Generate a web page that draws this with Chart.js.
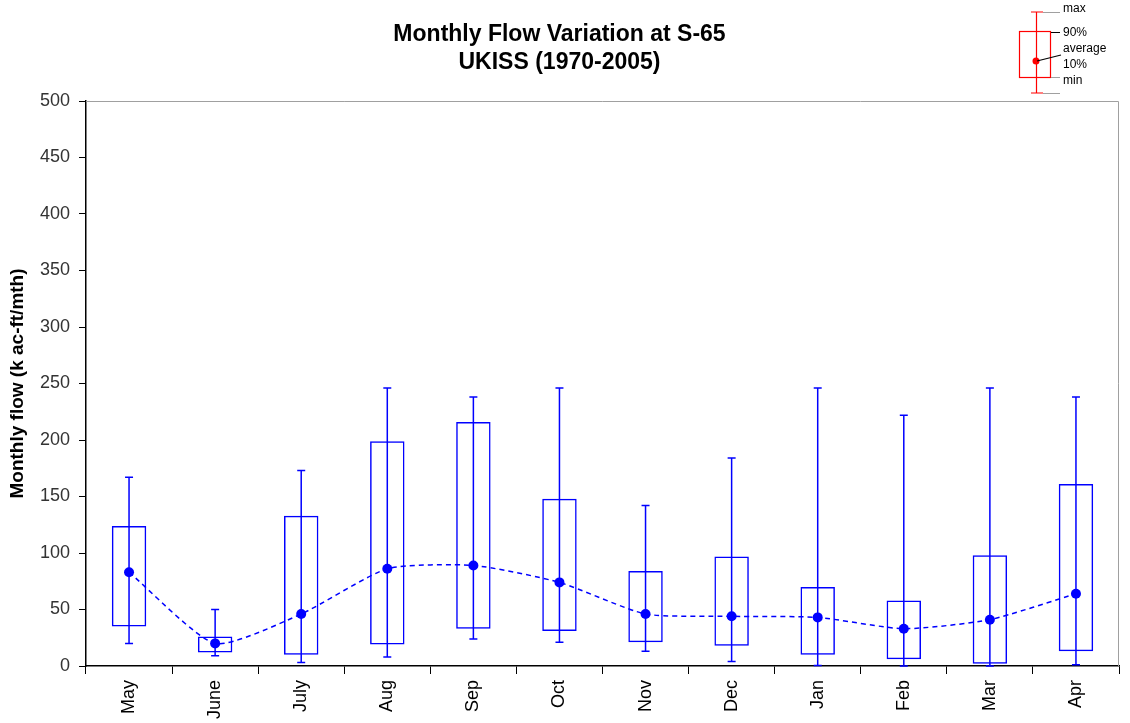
<!DOCTYPE html>
<html>
<head>
<meta charset="utf-8">
<script src="https://cdn.jsdelivr.net/npm/chart.js@4"></script>
<style>
  html, body { margin: 0; padding: 0; background: #fff; }
  #wrap { width: 1130px; height: 723px; }
</style>
</head>
<body>
<div id="wrap"><canvas id="mycanvas" width="1130" height="723"></canvas></div>
<script>
// monthly flow stats, k ac-ft/mth
var months  = ["May", "June", "July", "Aug", "Sep", "Oct", "Nov", "Dec", "Jan", "Feb", "Mar", "Apr"];
var maxVal  = [167, 50, 173, 246, 238, 246, 142, 184, 246, 222, 246, 238];
var p90     = [124, 26, 133, 199, 216, 148, 84, 97, 70, 58, 98, 161];
var average = [83, 20, 46, 86, 89, 74, 46, 44, 43, 33, 41, 64];
var p10     = [35, 12, 10, 19, 33, 31, 21, 18, 10, 6, 2, 13];
var minVal  = [20, 9, 3, 8, 24, 21, 13, 4, 0.5, 0, 0, 1];
var yTicks  = [0, 50, 100, 150, 200, 250, 300, 350, 400, 450, 500];

var BLUE = "#0000ff";

var boxes = [];
for (var i = 0; i < months.length; i++) {
	boxes.push([p10[i], p90[i]]);
}

// min-max whiskers with caps
var whiskerPlugin = {
	id: "whiskers",
	beforeDatasetsDraw: function(chart) {
		var ctx = chart.ctx;
		var x = chart.scales.x, y = chart.scales.y;
		ctx.save();
		ctx.strokeStyle = BLUE;
		ctx.lineWidth = 1.5;
		for (var i = 0; i < months.length; i++) {
			var px = x.getPixelForValue(i);
			var top = y.getPixelForValue(maxVal[i]);
			var bot = y.getPixelForValue(minVal[i]);
			ctx.beginPath();
			ctx.moveTo(px, top); ctx.lineTo(px, bot);
			ctx.moveTo(px - 4, top); ctx.lineTo(px + 4, top);
			ctx.moveTo(px - 4, bot); ctx.lineTo(px + 4, bot);
			ctx.stroke();
		}
		ctx.restore();
	}
};

// gray frame on top/right of plot area + the little red key in the corner
var framePlugin = {
	id: "frame",
	afterDraw: function(chart) {
		var ctx = chart.ctx;
		var a = chart.chartArea;
		ctx.save();
		ctx.strokeStyle = "#a0a0a0";
		ctx.lineWidth = 1;
		ctx.beginPath();
		ctx.moveTo(a.left, a.top + 0.5); ctx.lineTo(a.right - 0.5, a.top + 0.5);
		ctx.lineTo(a.right - 0.5, a.bottom);
		ctx.stroke();

		// key
		ctx.strokeStyle = "#ff0000";
		ctx.lineWidth = 1.2;
		ctx.beginPath();
		ctx.moveTo(1036.5, 12); ctx.lineTo(1036.5, 93);
		ctx.moveTo(1031, 12); ctx.lineTo(1043, 12);
		ctx.moveTo(1031, 93); ctx.lineTo(1043, 93);
		ctx.stroke();
		ctx.strokeRect(1019.5, 31.5, 31, 46);
		ctx.fillStyle = "#ff0000";
		ctx.beginPath();
		ctx.arc(1036, 61, 3.5, 0, Math.PI * 2);
		ctx.fill();

		ctx.strokeStyle = "#a0a0a0";
		ctx.beginPath();
		ctx.moveTo(1043, 12.5); ctx.lineTo(1060, 12.5);
		ctx.moveTo(1043, 93.5); ctx.lineTo(1060, 93.5);
		ctx.moveTo(1051, 77.5); ctx.lineTo(1060, 77.5);
		ctx.stroke();
		ctx.strokeStyle = "#000";
		ctx.beginPath();
		ctx.moveTo(1051, 32.5); ctx.lineTo(1060, 32.5);
		ctx.moveTo(1037, 61); ctx.lineTo(1061, 55);
		ctx.stroke();

		ctx.fillStyle = "#000";
		ctx.font = "12px 'Liberation Sans', Arial, sans-serif";
		ctx.textBaseline = "middle";
		ctx.textAlign = "left";
		ctx.fillText("max", 1063, 9);
		ctx.fillText("90%", 1063, 33);
		ctx.fillText("average", 1063, 49);
		ctx.fillText("10%", 1063, 65);
		ctx.fillText("min", 1063, 81);
		ctx.restore();
	}
};

var ctx = document.getElementById("mycanvas");

var chartdata = {
	labels: months,
	datasets: [
		{
			type: "line",
			label: "average",
			data: average,
			borderColor: BLUE,
			borderWidth: 1.5,
			borderDash: [5, 4],
			backgroundColor: BLUE,
			pointRadius: 5,
			pointBorderWidth: 0,
			pointBackgroundColor: BLUE,
			fill: false,
			tension: 0.2,
			order: 0
		},
		{
			type: "bar",
			label: "10% - 90%",
			data: boxes,
			backgroundColor: "rgba(0,0,0,0)",
			borderColor: BLUE,
			borderWidth: 1.5,
			borderSkipped: false,
			barPercentage: 0.4,
			categoryPercentage: 1.0,
			order: 1
		}
	]
};

var FONT = "'Liberation Sans', Arial, sans-serif";

var LineGraph = new Chart(ctx, {
	type: "bar",
	data: chartdata,
	plugins: [whiskerPlugin, framePlugin],
	options: {
		responsive: false,
		animation: false,
		layout: { padding: { left: 0, right: 11, top: 0, bottom: 0 } },
		plugins: {
			legend: { display: false },
			tooltip: { enabled: false },
			title: {
				display: true,
				text: ["Monthly Flow Variation at S-65", "UKISS (1970-2005)"],
				color: "#000",
				font: { family: FONT, size: 23, weight: "bold", lineHeight: 1.2 },
				padding: { top: 21, bottom: 24.8 }
			}
		},
		scales: {
			x: {
				offset: true,
				grid: { display: true, offset: true, drawOnChartArea: false, drawTicks: true, tickLength: 8, color: "#000", lineWidth: 1 },
				border: { display: true, color: "#000", width: 1.5 },
				ticks: {
					color: "#000",
					font: { family: FONT, size: 18 },
					maxRotation: 90,
					minRotation: 90,
					padding: 6,
					autoSkip: false
				},
				afterFit: function(s) { s.height = 57; }
			},
			y: {
				min: 0,
				max: 500,
				afterBuildTicks: function(s) {
					s.ticks = yTicks.map(function(v) { return { value: v }; });
				},
				grid: { display: true, drawOnChartArea: false, drawTicks: true, tickLength: 7, color: "#000", lineWidth: 1 },
				border: { display: true, color: "#000", width: 1.5 },
				ticks: {
					color: "#333",
					font: { family: FONT, size: 18 },
					padding: 9
				},
				title: {
					display: true,
					text: "Monthly flow (k ac-ft/mth)",
					color: "#000",
					font: { family: FONT, size: 19, weight: "bold" },
					padding: { top: 6, bottom: 0 }
				},
				afterFit: function(s) { s.width = 86; }
			}
		}
	}
});
</script>
</body>
</html>
